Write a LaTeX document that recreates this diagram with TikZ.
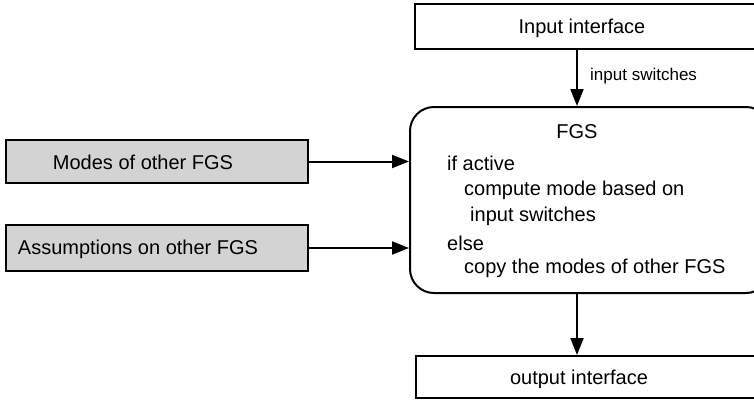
\documentclass[tikz,border=0pt]{standalone}
\usepackage{fontspec}
\setmainfont{Liberation Sans}
\usetikzlibrary{arrows.meta,positioning,calc}
\definecolor{boxgray}{HTML}{D3D3D3}
\tikzset{
  box/.style={draw=black, line width=2pt, inner sep=0pt},
  graybox/.style={box, fill=boxgray},
  txt/.style={inner sep=0pt, font=\fontsize{20}{24}\selectfont},
  smalltxt/.style={inner sep=0pt, font=\fontsize{17}{20}\selectfont},
  arr/.style={draw=black, line width=2pt, -{Triangle[length=17pt,width=13pt]}},
}
\begin{document}
\begin{tikzpicture}[x=1pt,y=-1pt]
\useasboundingbox (0,0) rectangle (754,400);
\clip (0,0) rectangle (754,400);
\coordinate (ax) at (577,0);
% input interface
\node[box, minimum width=350, minimum height=45] (in) at (590,26.5) {};
\node[txt] (intxt) at (582,28) {Input interface};
% FGS
\node[box, rounded corners=24pt, minimum width=360, minimum height=186] (fgs) at (590,200) {};
\node[txt] (fgst) at (577,132) {FGS};
\node[txt, anchor=west] (l1) at (447,163) {if active};
\node[txt, anchor=west] (l2) at (464,190) {compute mode based on};
\node[txt, anchor=west] (l3) at (470,216) {input switches};
\node[txt, anchor=west] (l4) at (447,243) {else};
\node[txt, anchor=west] (l5) at (464,268) {copy the modes of other FGS};
% left gray boxes
\node[graybox, minimum width=302, minimum height=43] (modes) at (157,161.5) {};
\node[txt] (modest) at (143,162) {Modes of other FGS};
\node[graybox, minimum width=302, minimum height=46] (assm) at (157,248) {};
\node[txt] (assmt) at (138,249) {Assumptions on other FGS};
% output interface
\node[box, minimum width=350, minimum height=42] (out) at (591,377) {};
\node[txt] (outt) at (579,379) {output interface};
% connectors
\draw[arr] (ax |- in.south) -- (ax |- fgs.north);
\node[smalltxt, anchor=west] (lab) at (590,76) {input switches};
\draw[arr] (modes.east) -- (modes.east -| fgs.west);
\draw[arr] (assm.east) -- (assm.east -| fgs.west);
\draw[arr] (ax |- fgs.south) -- (ax |- out.north);
\end{tikzpicture}
\end{document}
